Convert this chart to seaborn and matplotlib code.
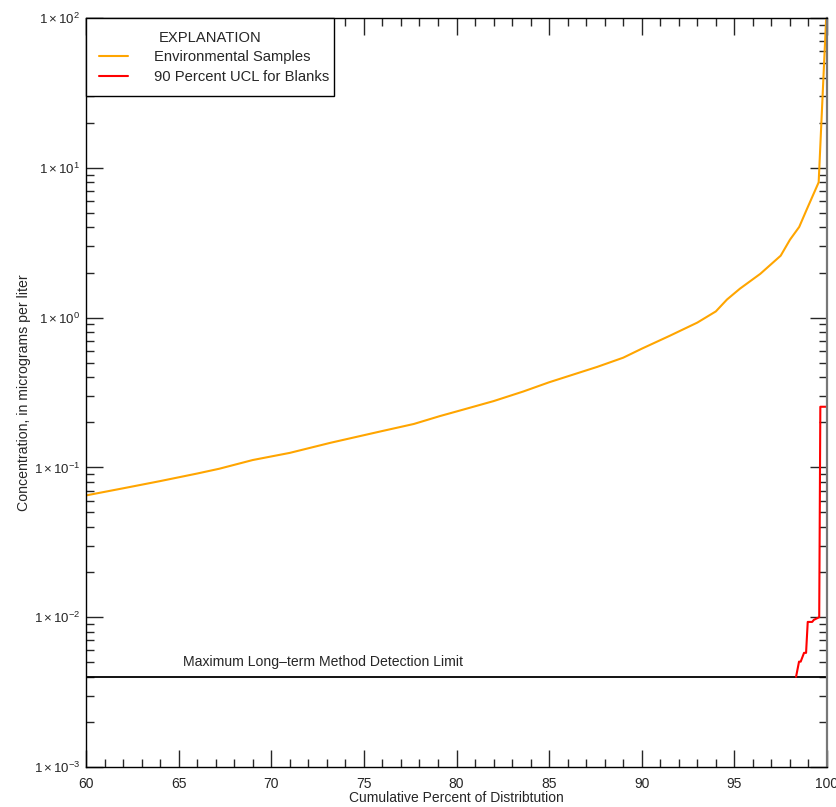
import matplotlib
matplotlib.use("Agg")
import matplotlib.pyplot as plt
import matplotlib.ticker as mticker
from matplotlib.lines import Line2D
from matplotlib.transforms import ScaledTranslation
import numpy as np
import pandas as pd
import seaborn as sns

# ---- data ----
env_pct = [60.0, 62.0, 64.0, 66.0, 67.2, 69.0, 71.0, 73.2, 76.0, 77.7, 79.1, 80.2,
           82.0, 83.6, 85.0, 87.6, 89.0, 90.0, 91.5, 93.0, 94.0, 94.6, 95.3, 96.4,
           97.5, 98.0, 98.5, 98.9, 99.55, 99.75, 99.95]
env_conc = [0.065, 0.0725, 0.081, 0.091, 0.098, 0.112, 0.125, 0.146, 0.175, 0.195, 0.22, 0.24,
            0.277, 0.321, 0.37, 0.469, 0.54, 0.62, 0.755, 0.926, 1.10, 1.32, 1.56, 1.96,
            2.59, 3.31, 4.03, 5.25, 8.0, 28.0, 97.0]
ucl_pct = [98.33, 98.49, 98.58, 98.76, 98.87, 98.96, 99.2, 99.29, 99.58, 99.64, 99.93]
ucl_conc = [0.004, 0.00505, 0.00505, 0.00578, 0.00578, 0.0093, 0.0093, 0.0096, 0.01, 0.254, 0.254]
mdl_value = 0.004
mdl_label = "Maximum Long\u2013term Method Detection Limit"
series_names = ["Environmental Samples", "90 Percent UCL for Blanks"]
series_colors = ["#FFA500", "#FF0000"]

sns.set_style("ticks")
fam = ["Liberation Sans", "DejaVu Sans"]
plt.rcParams["font.family"] = fam
plt.rcParams["mathtext.fontset"] = "custom"
plt.rcParams["mathtext.rm"] = "Liberation Sans"
plt.rcParams["mathtext.it"] = "Liberation Sans:italic"

fig = plt.figure(figsize=(8.37, 8.07), dpi=100)
ax = fig.add_axes([86/837, 40/807, (827-86)/837, (767-18)/807])

df = pd.concat([
    pd.DataFrame({"pct": env_pct, "conc": env_conc, "series": series_names[0]}),
    pd.DataFrame({"pct": ucl_pct, "conc": ucl_conc, "series": series_names[1]}),
])

sns.lineplot(data=df, x="pct", y="conc", hue="series", palette=series_colors,
             sort=False, estimator=None, linewidth=1.5, ax=ax, legend=False)

ax.axhline(mdl_value, color="black", linewidth=1.3, zorder=1)
ax.text(72.8, mdl_value * 1.13, mdl_label, ha="center", va="bottom", fontsize=10.1)

ax.set_yscale("log")
ax.set_xlim(60, 100)
ax.set_ylim(1e-3, 1e2)

ax.xaxis.set_major_locator(mticker.MultipleLocator(5))
ax.xaxis.set_minor_locator(mticker.MultipleLocator(1))
ax.yaxis.set_major_locator(mticker.LogLocator(base=10, numticks=10))
ax.yaxis.set_minor_locator(mticker.LogLocator(base=10, subs=np.arange(2, 10), numticks=20))
ax.yaxis.set_minor_formatter(mticker.NullFormatter())
ax.yaxis.set_major_formatter(mticker.FuncFormatter(
    lambda v, p: r"$\mathregular{1\times10^{%d}}$" % int(round(np.log10(v)))))

ax.tick_params(which="both", direction="in", top=True, right=True, width=1)
ax.tick_params(which="major", length=12)
ax.tick_params(which="minor", length=6)
ax.tick_params(axis="x", pad=7, labelsize=10)
ax.tick_params(axis="y", pad=4, labelsize=9.5)

for s in ["left", "top", "bottom"]:
    ax.spines[s].set_color("black")
    ax.spines[s].set_linewidth(1)
ax.spines["right"].set_color("#777777")
ax.spines["right"].set_linewidth(1.6)

ax.set_xlabel("Cumulative Percent of Distribtution", fontsize=10, labelpad=0)
ax.set_ylabel("Concentration, in micrograms per liter", fontsize=10.2, labelpad=2)

handles = [Line2D([], [], color=c, linewidth=1.5) for c in series_colors]
leg = ax.legend(handles, series_names, title="EXPLANATION", loc="upper left",
                bbox_to_anchor=(0, 1, (334-86)/741, 0), mode="expand",
                borderaxespad=0, fancybox=False, shadow=False,
                frameon=True, fontsize=10.6, title_fontsize=10.6, handlelength=2.0,
                handletextpad=1.8, labelspacing=0.38, borderpad=0.85)
leg.get_frame().set_edgecolor("black")
leg.get_frame().set_linewidth(1)
leg.get_frame().set_alpha(1)

fig.canvas.draw()
last = ax.xaxis.get_majorticklabels()[-1]
last.set_horizontalalignment("right")
last.set_transform(last.get_transform() + ScaledTranslation(8/100, 0, fig.dpi_scale_trans))

fig.savefig("out.png", dpi=100)
